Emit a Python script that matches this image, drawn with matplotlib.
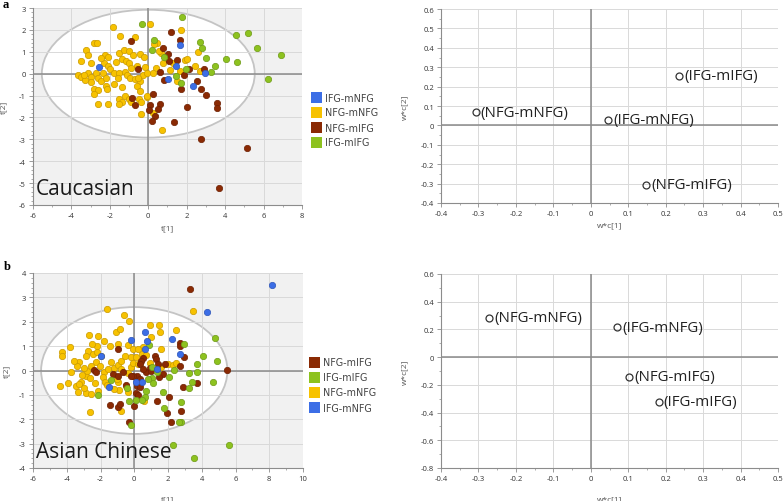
import matplotlib
matplotlib.use("Agg")
import matplotlib.pyplot as plt
from matplotlib.patches import Ellipse, Rectangle
from matplotlib.ticker import MultipleLocator, FuncFormatter

plt.rcParams['font.family'] = ['Open Sans', 'DejaVu Sans']

# ---------------- DATA ----------------
groups = ["IFG-mNFG", "NFG-mNFG", "NFG-mIFG", "IFG-mIFG"]
group_colors = {"IFG-mNFG": "#3c6ee6", "NFG-mNFG": "#f7c200",
                "NFG-mIFG": "#8a2a04", "IFG-mIFG": "#8dc21f"}
edge_colors = {"IFG-mNFG": "#2f56b8", "NFG-mNFG": "#c99a00",
               "NFG-mIFG": "#6e2103", "IFG-mIFG": "#6f9a18"}

# Caucasian score plot (t[1], t[2])
cau_blue = [(-2.57, 0.29), (1.67, 1.31), (1.43, 0.35), (1.01, -0.26), (2.35, -0.55), (2.94, 0.05)]
cau_green = [(-0.31, 2.26), (1.77, 2.59), (0.28, 1.54), (0.21, 1.07), (2.70, 1.45), (2.82, 1.19),
             (0.83, 0.78), (2.99, 0.70), (4.05, 0.69), (4.57, 1.75), (5.17, 1.88), (5.65, 1.19),
             (6.90, 0.84), (4.61, 0.53), (3.48, 0.35), (3.27, 0.08), (6.21, -0.23), (1.44, -0.11),
             (1.70, -0.44), (1.95, 0.20)]
cau_brown = [(-0.92, 1.48), (1.20, 1.92), (1.65, 1.54), (0.78, 1.19), (1.01, 0.88), (1.10, 0.58),
             (1.48, 0.61), (-0.54, 0.23), (0.63, 0.08), (0.83, -0.30), (1.88, -0.08), (2.14, 0.23),
             (2.90, 0.23), (2.56, -0.34), (2.73, -0.72), (2.99, -0.99), (1.70, -0.69), (0.23, -0.95),
             (-0.87, -1.10), (-0.70, -1.45), (0.09, -1.45), (0.05, -1.68), (0.61, -1.40), (0.52, -1.63),
             (0.35, -1.94), (0.17, -2.16), (1.34, -2.21), (2.02, -1.51), (3.58, -1.33), (3.57, -1.55),
             (2.75, -3.00), (5.15, -3.41), (3.67, -5.23)]
cau_yellow = [(-1.85, 2.12), (0.07, 2.29), (-1.45, 1.72), (-0.70, 1.69), (1.70, 1.98),
              (-2.85, 1.40), (-2.68, 1.40), (0.44, 1.42), (0.30, 1.35),
              (-3.25, 1.07), (-3.15, 0.84), (-3.48, 0.58), (-2.96, 0.50),
              (-2.25, 0.85), (-2.10, 0.78), (-1.50, 0.96), (-1.25, 1.10), (-1.00, 1.05), (-0.80, 0.85),
              (-0.45, 0.90), (-0.20, 0.78), (-1.35, 0.65), (-1.70, 0.55), (-1.15, 0.58), (-1.00, 0.50),
              (-0.60, 0.35), (-0.15, 0.32), (-2.30, 0.48), (-2.10, 0.35), (-2.00, 0.20), (-2.35, 0.05),
              (-1.80, 0.05), (-1.55, 0.05), (-1.20, 0.08), (-1.10, -0.08), (-0.95, -0.18), (-0.70, -0.25),
              (-0.45, -0.32), (-0.30, -0.08), (-0.05, 0.05), (-3.65, -0.05), (-3.50, -0.15), (-3.15, 0.05),
              (-3.00, -0.15), (-2.72, 0.02), (-2.62, -0.22), (-3.30, -0.30), (-3.00, -0.38), (-2.45, -0.35),
              (-2.20, -0.22), (-2.20, -0.56), (-2.85, -0.68), (-2.60, -0.75), (-2.80, -0.95), (-2.15, -0.72),
              (-1.80, -0.45), (-1.35, -0.62), (-1.20, -1.02), (-1.50, -1.15), (-1.35, -1.28), (-1.00, -1.15),
              (-0.90, -1.30), (-0.47, -1.15), (-0.40, -1.30), (-1.55, -1.40), (-2.60, -1.40), (-2.12, -1.40),
              (-0.57, -0.55), (-0.45, -0.78), (-0.38, -1.86), (-0.05, -1.07), (-0.55, -0.20),
              (0.38, 0.27), (0.78, 0.47), (1.13, 0.17), (1.30, 0.50), (1.91, 0.63), (2.02, 0.66),
              (2.44, 0.35), (2.61, 0.99), (2.70, 0.12), (1.65, 0.12), (0.70, -2.58), (0.65, 0.96),
              (0.90, 0.70), (0.25, 0.05), (0.23, -1.78), (-0.08, -1.02), (1.48, -0.34), (0.55, 1.05),
              (-0.90, 0.25), (-1.60, -0.20), (-2.45, 0.70), (-3.35, -0.05)]

# Asian Chinese score plot
asn_blue = [(8.18, 3.52), (4.30, 2.39), (2.22, 1.30), (0.64, 1.57), (0.76, 1.19), (0.62, 0.88),
            (-0.21, 1.26), (2.70, 0.68), (0.13, -0.49), (0.43, -0.49), (-1.99, 0.61), (-1.49, -0.69),
            (1.35, 0.05)]
asn_brown = [(3.30, 3.35), (5.47, 0.02), (2.74, 1.13), (2.74, 0.99), (2.96, 0.54), (2.70, 0.17),
             (3.69, -0.50), (2.90, -0.68), (2.05, -1.07), (1.35, -1.26), (1.96, -1.76), (2.18, -2.13),
             (2.77, -1.67), (1.24, 0.60), (1.28, 0.47), (1.42, 0.27), (1.81, 0.25), (1.71, -0.15),
             (1.47, -0.28), (0.53, 0.50), (0.39, 0.40), (0.33, 0.27), (0.72, -0.08), (0.17, -0.21),
             (-0.07, -0.21), (0.19, -0.62), (0.13, -0.93), (0.23, -1.00), (0.37, -0.69), (-0.03, -1.45),
             (-0.30, -2.13), (-1.41, -1.40), (-0.96, -1.49), (-0.86, -1.38), (-0.96, 0.88), (-1.25, -0.14),
             (-0.96, -0.21), (-0.66, -0.08), (-0.46, -0.60), (-2.38, 0.02), (-2.28, -0.08), (-0.17, -0.21),
             (0.92, 0.09), (1.02, -0.01), (0.52, 0.06), (0.33, -0.35)]
asn_green = [(4.78, 1.32), (4.88, 0.39), (4.06, 0.58), (3.73, 0.26), (3.74, -0.05), (3.22, -0.09),
             (3.45, -0.49), (3.24, -0.72), (4.68, -0.47), (2.93, 1.08), (2.33, 0.03), (2.03, -0.28),
             (1.71, -0.88), (1.79, -1.52), (2.78, -1.31), (2.76, -2.11), (2.65, -2.11), (2.31, -3.06),
             (5.63, -3.05), (3.54, -3.60), (-0.17, -2.25), (0.72, -0.83), (0.64, -1.10), (0.48, -1.20),
             (-0.41, -0.72), (-0.34, -1.27), (0.13, -1.19), (-1.38, -0.38), (-2.12, -1.00), (1.05, -0.30),
             (1.10, -0.51), (0.87, 1.05), (1.08, 0.13), (1.32, -0.05), (0.82, -0.35)]
asn_yellow = [(-1.61, 2.53), (-0.62, 2.28), (-0.30, 2.05), (0.92, 1.88), (1.48, 1.87), (1.52, 1.60),
              (2.50, 1.68), (3.47, 2.45), (-2.68, 1.45), (-2.14, 1.42), (-1.06, 1.57), (-0.82, 1.71),
              (-1.45, 1.02), (-0.96, 1.09), (-0.37, 1.05), (-0.07, 0.89), (0.53, 0.95), (1.02, 1.37),
              (1.58, 0.89), (-3.82, 0.95), (-4.26, 0.75), (-4.30, 0.61), (-3.27, 0.36), (-3.37, 0.20),
              (-3.73, -0.05), (-3.93, -0.51), (-4.42, -0.62), (-3.35, -0.90), (-3.43, -0.62), (-3.13, -0.49),
              (-2.88, -0.24), (-2.79, -0.01), (-2.88, -0.94), (-2.54, -0.97), (-2.60, -1.72), (-2.14, -0.83),
              (-2.74, 0.82), (-2.44, 0.68), (-2.88, 0.61), (-2.24, 0.34), (-2.54, 0.20), (-2.04, 0.20),
              (-1.81, -0.08), (-1.55, 0.06), (-1.19, 0.09), (-0.96, 0.23), (-0.76, 0.40), (-0.56, 0.61),
              (-0.21, 0.54), (0.13, 0.57), (0.43, 0.68), (0.72, 0.64), (-1.85, -0.28), (-1.76, -0.49),
              (-0.96, -0.46), (-0.92, -0.79), (-0.76, -1.65), (-0.46, -0.62), (-0.40, -0.87), (0.57, -1.27),
              (2.01, 0.27), (2.30, 0.23), (2.48, 0.29), (-2.20, 1.02), (-2.50, 1.09), (-3.30, -0.55),
              (-3.10, -0.20), (-2.60, -0.30), (-2.30, -0.50), (-1.95, 0.60), (-1.40, 0.35), (-0.80, 0.05),
              (-1.60, -0.60), (-1.20, -0.75), (-3.55, 0.40), (-2.20, 0.75), (-0.20, 0.15), (0.95, 0.30),
              (1.60, 0.15), (0.25, 0.90), (-0.05, 0.30), (-2.95, -0.70), (-1.00, -0.35), (-0.35, -0.10),
              (-3.00, 0.10), (-1.80, 1.20), (0.20, 0.25)]

# Loadings (w*c[1], w*c[2])
cau_load_labels = ["(IFG-mIFG)", "(NFG-mNFG)", "(IFG-mNFG)", "(NFG-mIFG)"]
cau_load_x = [0.236, -0.307, 0.047, 0.148]
cau_load_y = [0.256, 0.068, 0.029, -0.307]
asn_load_labels = ["(NFG-mNFG)", "(IFG-mNFG)", "(NFG-mIFG)", "(IFG-mIFG)"]
asn_load_x = [-0.271, 0.071, 0.103, 0.181]
asn_load_y = [0.283, 0.215, -0.141, -0.321]

cau_legend = ["IFG-mNFG", "NFG-mNFG", "NFG-mIFG", "IFG-mIFG"]
asn_legend = ["NFG-mIFG", "IFG-mIFG", "NFG-mNFG", "IFG-mNFG"]

# ---------------- FIGURE ----------------
W, H = 784, 502
fig = plt.figure(figsize=(W / 100, H / 100), dpi=100)


def px_axes(l, t, r, b):
    return fig.add_axes([l / W, 1 - b / H, (r - l) / W, (b - t) / H])


GRID = "#d9d9d9"
SPINE = "#8c8c8c"
TXT = "#333333"


def style(ax):
    for s in ("top", "right"):
        ax.spines[s].set_visible(False)
    for s in ("left", "bottom"):
        ax.spines[s].set_color(SPINE)
        ax.spines[s].set_linewidth(0.8)
    ax.tick_params(which="major", length=3, width=0.6, color=SPINE, labelsize=5.5,
                   labelcolor=TXT, pad=2)
    ax.tick_params(which="minor", length=1.6, width=0.5, color=SPINE)
    ax.grid(True, which="major", color=GRID, lw=0.7)
    ax.set_axisbelow(True)
    ax.axhline(0, color="#8a8a8a", lw=1.1, zorder=1)
    ax.axvline(0, color="#8a8a8a", lw=1.1, zorder=1)
    fmt = FuncFormatter(lambda v, p: ("%g" % round(v, 4)) if abs(v) > 1e-9 else "0")
    ax.xaxis.set_major_formatter(fmt)
    ax.yaxis.set_major_formatter(fmt)


def score_plot(ax, data, order, xlim, ylim, ell, name, legend, leg_top, leg_left):
    ax.set_facecolor("#f1f1f1")
    ax.set_xlim(*xlim)
    ax.set_ylim(*ylim)
    e = Ellipse((0, 0), 2 * ell[0], 2 * ell[1], facecolor="white", edgecolor="#c4c4c4",
                lw=1.3, zorder=0.3)
    ax.add_patch(e)
    style(ax)
    ax.xaxis.set_major_locator(MultipleLocator(2))
    ax.xaxis.set_minor_locator(MultipleLocator(1))
    ax.yaxis.set_major_locator(MultipleLocator(1))
    ax.yaxis.set_minor_locator(MultipleLocator(0.2))
    for g in order:
        pts = data[g]
        ax.scatter([p[0] for p in pts], [p[1] for p in pts], s=21, c=group_colors[g],
                   edgecolors=edge_colors[g], linewidths=0.5, zorder=3)
    ax.text(0.012, 0.055, name, transform=ax.transAxes, fontsize=15, color="#1a1a1a",
            ha="left", va="baseline", zorder=5)
    ax.set_xlabel("t[1]", fontsize=6, color="#555555")
    ax.set_ylabel("t[2]", fontsize=6, color="#555555")
    # legend
    for i, g in enumerate(legend):
        yc = leg_top + i * 15.0
        fig.patches.append(Rectangle((leg_left / W, 1 - (yc + 5.5) / H), 11.5 / W, 11 / H,
                                     transform=fig.transFigure, facecolor=group_colors[g],
                                     edgecolor="none"))
        fig.text((leg_left + 14.5) / W, 1 - yc / H, g, fontsize=6.9, color="#444444",
                 family="DejaVu Sans", ha="left", va="center")


def load_plot(ax, xs, ys, labels, ylim, ystep, yminor):
    ax.set_facecolor("white")
    ax.set_xlim(-0.4, 0.5)
    ax.set_ylim(*ylim)
    style(ax)
    ax.xaxis.set_major_locator(MultipleLocator(0.1))
    ax.xaxis.set_minor_locator(MultipleLocator(0.05))
    ax.yaxis.set_major_locator(MultipleLocator(ystep))
    ax.yaxis.set_minor_locator(MultipleLocator(yminor))
    ax.plot(xs, ys, linestyle="none", marker="o", markersize=5, markerfacecolor="none",
            markeredgecolor="#333333", markeredgewidth=0.9, zorder=3)
    for x, y, lab in zip(xs, ys, labels):
        ax.annotate(lab, (x, y), xytext=(3.5, 0), textcoords="offset points", fontsize=10.8,
                    color="#222222", ha="left", va="center", zorder=4)
    ax.set_xlabel("w*c[1]", fontsize=6, color="#555555")
    ax.set_ylabel("w*c[2]", fontsize=6, color="#555555")


# Top-left
ax1 = px_axes(33, 9, 302, 206)
score_plot(ax1, {"IFG-mNFG": cau_blue, "NFG-mNFG": cau_yellow, "NFG-mIFG": cau_brown,
                 "IFG-mIFG": cau_green},
           ["NFG-mNFG", "NFG-mIFG", "IFG-mIFG", "IFG-mNFG"], (-6, 8), (-6, 3), (5.54, 2.92),
           "Caucasian", cau_legend, 98.5, 310.5)
ax1.yaxis.set_label_coords(-0.097, 0.5)
ax1.xaxis.set_label_coords(0.5, -0.10)

# Top-right
ax2 = px_axes(441, 10, 778, 204)
load_plot(ax2, cau_load_x, cau_load_y, cau_load_labels, (-0.4, 0.6), 0.1, 0.05)
ax2.yaxis.set_label_coords(-0.098, 0.5)
ax2.xaxis.set_label_coords(0.5, -0.095)

# Bottom-left
ax3 = px_axes(33, 274, 303, 469)
score_plot(ax3, {"IFG-mNFG": asn_blue, "NFG-mNFG": asn_yellow, "NFG-mIFG": asn_brown,
                 "IFG-mIFG": asn_green},
           ["NFG-mNFG", "NFG-mIFG", "IFG-mIFG", "IFG-mNFG"], (-6, 10), (-4, 4), (5.52, 2.6),
           "Asian Chinese", asn_legend, 363.5, 308.5)
ax3.yaxis.set_label_coords(-0.085, 0.5)
ax3.xaxis.set_label_coords(0.5, -0.14)

# Bottom-right
ax4 = px_axes(441, 275, 778, 469)
load_plot(ax4, asn_load_x, asn_load_y, asn_load_labels, (-0.8, 0.6), 0.2, 0.1)
ax4.yaxis.set_label_coords(-0.097, 0.5)
ax4.xaxis.set_label_coords(0.5, -0.14)

# Panel letters
fig.text(3 / W, 1 - 5 / H, "a", fontsize=9, fontweight="bold", family="Liberation Serif",
         ha="left", va="center")
fig.text(4 / W, 1 - 267 / H, "b", fontsize=9, fontweight="bold", family="Liberation Serif",
         ha="left", va="center")

fig.savefig("out.png", dpi=100)
